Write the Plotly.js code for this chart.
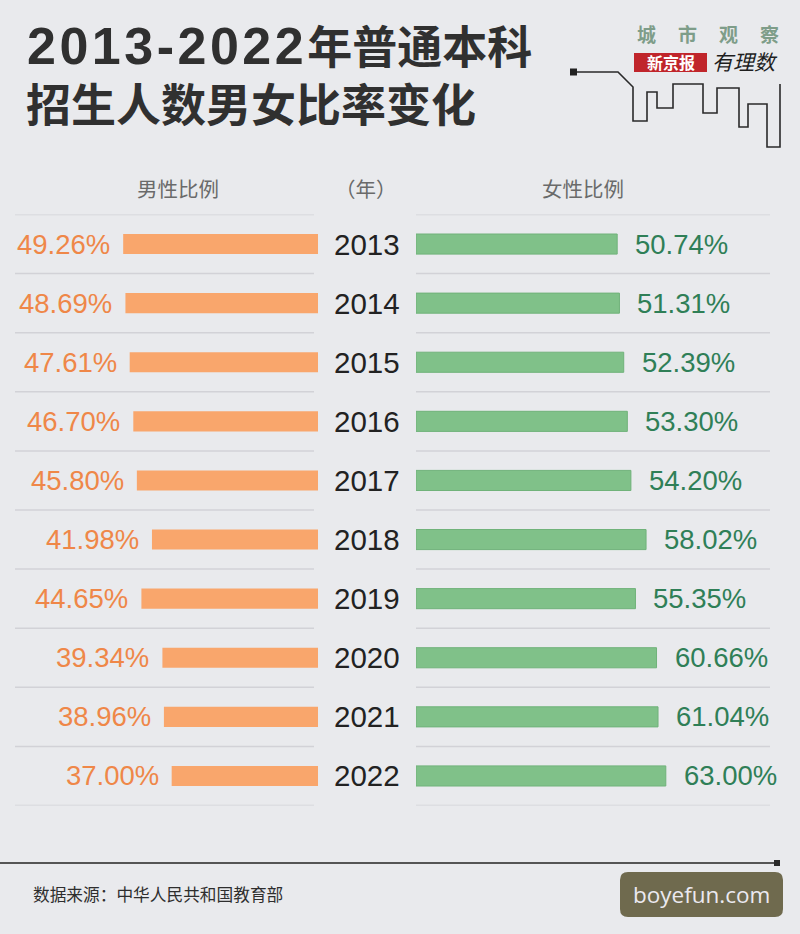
<!DOCTYPE html>
<html>
<head>
<meta charset="utf-8">
<script src="https://cdn.plot.ly/plotly-3.0.1.min.js"></script>
<style>
  html, body { margin: 0; padding: 0; background: #e9eaed; }
  #chart { width: 800px; height: 934px; }
</style>
</head>
<body>
<div id="chart"></div>
<script>
// Undergraduate enrolment, male / female share by year (%)
const years = ['2013', '2014', '2015', '2016', '2017', '2018', '2019', '2020', '2021', '2022'];
const maleShare = [49.26, 48.69, 47.61, 46.70, 45.80, 41.98, 44.65, 39.34, 38.96, 37.00];
const femaleShare = [50.74, 51.31, 52.39, 53.30, 54.20, 58.02, 55.35, 60.66, 61.04, 63.00];

const titleYears = '2013-2022';
const titleRest = '年普通本科';
const titleLine2 = '招生人数男女比率变化';
const headerMale = '男性比例';
const headerYear = '（年）';
const headerFemale = '女性比例';
const sourceText = '数据来源：中华人民共和国教育部';
const brandTop = '城市观察';
const brandBox = '新京报';
const brandHand = '有理数';
const siteMark = 'boyefun.com';

const W = 800, H = 934;
const px = x => x / W;
const py = y => 1 - y / H;

const CJK = '"Noto Sans CJK SC", "Noto Sans", sans-serif';
const NUM = '"Liberation Sans", Arial, sans-serif';

const orange = '#f9a66c';
const orangeText = '#ef8748';
const green = '#80c189';
const greenText = '#2f7f57';

const traces = [
  {
    type: 'bar', orientation: 'h',
    y: years, x: maleShare,
    xaxis: 'x', yaxis: 'y',
    width: 0.34,
    marker: { color: orange, line: { width: 0 } },
    hoverinfo: 'skip'
  },
  {
    type: 'bar', orientation: 'h',
    y: years, x: femaleShare,
    xaxis: 'x2', yaxis: 'y',
    width: 0.34,
    marker: { color: green, line: { color: '#70b27a', width: 1 } },
    hoverinfo: 'skip'
  }
];

const annotations = [];
const shapes = [];

// headline
annotations.push({
  xref: 'paper', yref: 'paper', x: px(25), y: py(44),
  xanchor: 'left', yanchor: 'middle', showarrow: false,
  text: '<b><span style="font-family:\'Liberation Sans\',Arial,sans-serif;font-size:52px;letter-spacing:3.5px">' +
        titleYears + '</span>' + titleRest + '</b>',
  font: { family: CJK, size: 45, color: '#303030' }
});
annotations.push({
  xref: 'paper', yref: 'paper', x: px(24), y: py(102),
  xanchor: 'left', yanchor: 'middle', showarrow: false,
  text: '<b>' + titleLine2 + '</b>',
  font: { family: CJK, size: 45, color: '#303030' }
});

// column headers
[[headerMale, 178], [headerYear, 366], [headerFemale, 583]].forEach(([t, x]) => {
  annotations.push({
    xref: 'paper', yref: 'paper', x: px(x), y: py(188),
    xanchor: 'center', yanchor: 'middle', showarrow: false,
    text: t, font: { family: CJK, size: 20.5, color: '#6a6a6a' }
  });
});

// value labels and year labels (category positions are row indices)
years.forEach((yr, i) => {
  annotations.push({
    xref: 'x', yref: 'y', x: maleShare[i], y: i,
    xanchor: 'right', yanchor: 'middle', xshift: -11, showarrow: false,
    text: maleShare[i].toFixed(2) + '%',
    font: { family: NUM, size: 27.5, color: orangeText }
  });
  annotations.push({
    xref: 'x2', yref: 'y', x: femaleShare[i], y: i,
    xanchor: 'left', yanchor: 'middle', xshift: 16, showarrow: false,
    text: femaleShare[i].toFixed(2) + '%',
    font: { family: NUM, size: 27.5, color: greenText }
  });
  annotations.push({
    xref: 'paper', yref: 'y', x: px(367), y: i,
    xanchor: 'center', yanchor: 'middle', showarrow: false,
    text: yr, font: { family: NUM, size: 29.5, color: '#222222' }
  });
});

// row separators
for (let k = 0; k <= years.length; k++) {
  const yv = k - 0.5;
  shapes.push({ type: 'line', xref: 'paper', yref: 'y', x0: px(15), x1: px(314), y0: yv, y1: yv,
    line: { color: '#d2d2d7', width: 1.5 } });
  shapes.push({ type: 'line', xref: 'paper', yref: 'y', x0: px(416), x1: px(770), y0: yv, y1: yv,
    line: { color: '#d2d2d7', width: 1.5 } });
}

// brand skyline
const sky = [[576, 72], [618, 72], [633, 87], [633, 121], [647, 121], [647, 92], [657, 92], [657, 108],
  [673, 108], [673, 84], [703, 84], [703, 113], [717, 113], [717, 88], [739, 88], [739, 127],
  [748, 127], [748, 104], [767, 104], [767, 147], [780, 147], [780, 84]];
const skyPath = sky.map((p, i) => (i ? 'L' : 'M') + px(p[0]).toFixed(5) + ',' + py(p[1]).toFixed(5)).join(' ');
shapes.push({ type: 'path', xref: 'paper', yref: 'paper', path: skyPath, line: { color: '#2a2a2a', width: 1.6 } });
shapes.push({ type: 'rect', xref: 'paper', yref: 'paper', x0: px(570), x1: px(577), y0: py(68.5), y1: py(75.5),
  fillcolor: '#222', line: { width: 0 } });

// brand text
[...brandTop].forEach((ch, i) => {
  annotations.push({
    xref: 'paper', yref: 'paper', x: px(646 + i * 41), y: py(33),
    xanchor: 'center', yanchor: 'middle', showarrow: false,
    text: '<b>' + ch + '</b>', font: { family: CJK, size: 19, color: '#7e9d89' }
  });
});
shapes.push({ type: 'rect', xref: 'paper', yref: 'paper', x0: px(634), x1: px(707), y0: py(72), y1: py(53),
  fillcolor: '#c0252b', line: { width: 0 } });
annotations.push({
  xref: 'paper', yref: 'paper', x: px(670.5), y: py(62.5),
  xanchor: 'center', yanchor: 'middle', showarrow: false,
  text: '<b>' + brandBox + '</b>', font: { family: CJK, size: 16, color: '#ffffff' }
});
annotations.push({
  xref: 'paper', yref: 'paper', x: px(745), y: py(61),
  xanchor: 'center', yanchor: 'middle', showarrow: false,
  text: '<i>' + brandHand + '</i>', font: { family: CJK, size: 21, color: '#1e1e1e' }
});

// footer rule
shapes.push({ type: 'line', xref: 'paper', yref: 'paper', x0: 0, x1: px(777), y0: py(863), y1: py(863),
  line: { color: '#555555', width: 2 } });
shapes.push({ type: 'rect', xref: 'paper', yref: 'paper', x0: px(774), x1: px(780), y0: py(866), y1: py(860),
  fillcolor: '#2a2a2a', line: { width: 0 } });
annotations.push({
  xref: 'paper', yref: 'paper', x: px(31), y: py(894),
  xanchor: 'left', yanchor: 'middle', showarrow: false,
  text: sourceText, font: { family: CJK, size: 16.7, color: '#2e2e2e' }
});

// site badge
const bx0 = 620, bx1 = 783, by0 = 872, by1 = 917, r = 8;
const badge = [
  'M', px(bx0 + r), py(by0),
  'L', px(bx1 - r), py(by0),
  'Q', px(bx1), py(by0), px(bx1), py(by0 + r),
  'L', px(bx1), py(by1 - r),
  'Q', px(bx1), py(by1), px(bx1 - r), py(by1),
  'L', px(bx0 + r), py(by1),
  'Q', px(bx0), py(by1), px(bx0), py(by1 - r),
  'L', px(bx0), py(by0 + r),
  'Q', px(bx0), py(by0), px(bx0 + r), py(by0), 'Z'
].map(v => typeof v === 'number' ? v.toFixed(5) : v).join(' ')
 .replace(/(\d) (\d|-)/g, '$1,$2');
shapes.push({ type: 'path', xref: 'paper', yref: 'paper', path: badge, fillcolor: '#6f6a4e', line: { width: 0 } });
annotations.push({
  xref: 'paper', yref: 'paper', x: px(701.5), y: py(894),
  xanchor: 'center', yanchor: 'middle', showarrow: false,
  text: siteMark, font: { family: '"Open Sans", "Noto Sans", sans-serif', size: 22.5, color: '#ebe9f0' }
});

const rowDomain = [py(805.5), py(214.5)];

const layout = {
  width: W, height: H,
  margin: { l: 0, r: 0, t: 0, b: 0, pad: 0 },
  paper_bgcolor: '#e9eaed',
  plot_bgcolor: 'rgba(0,0,0,0)',
  showlegend: false,
  barmode: 'overlay',
  xaxis: { domain: [0, px(318)], range: [318 / 3.955, 0], visible: false, fixedrange: true },
  xaxis2: { domain: [px(416), 1], range: [0, 384 / 3.965], visible: false, fixedrange: true, anchor: 'y' },
  yaxis: {
    domain: rowDomain, type: 'category', categoryorder: 'array', categoryarray: years,
    range: [years.length - 0.5, -0.5], visible: false, fixedrange: true
  },
  annotations: annotations,
  shapes: shapes
};

Plotly.newPlot('chart', traces, layout, { displayModeBar: false, staticPlot: true });
</script>
</body>
</html>
